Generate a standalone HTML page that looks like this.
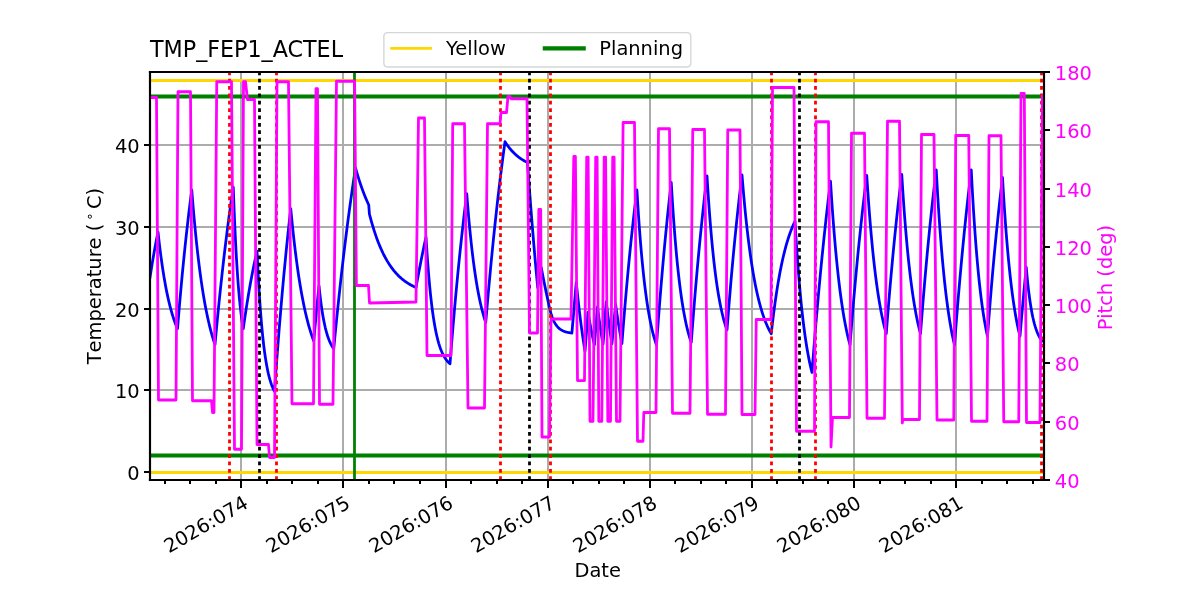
<!DOCTYPE html>
<html lang="en">
<head>
<meta charset="utf-8">
<title>TMP_FEP1_ACTEL</title>
<style>
html,body{margin:0;padding:0;background:#fff;}
body{width:1200px;height:600px;overflow:hidden;font-family:"DejaVu Sans","Liberation Sans",sans-serif;}
svg{display:block;}
</style>
</head>
<body>
<svg width="1200" height="600" viewBox="0 0 864 432">
 <defs>
  <style type="text/css">*{stroke-linejoin: round; stroke-linecap: butt}</style>
 </defs>
 <g id="figure_1">
  <g id="patch_1">
   <path d="M 0 432 L 864 432 L 864 0 L 0 0 z
" style="fill: #ffffff"/>
  </g>
  <g id="axes_1">
   <g id="patch_2">
    <path d="M 108 345.6 L 751.68 345.6 L 751.68 51.84 L 108 51.84 z
" style="fill: #ffffff"/>
   </g>
   <g id="matplotlib.axis_1">
    <g id="xtick_1">
     <g id="line2d_1">
      <path d="M 173.52 345.6 L 173.52 51.84 
" clip-path="url(#pbbffde8c5c)" style="fill: none; stroke: #acacac; stroke-width: 1.44; stroke-linecap: square"/>
     </g>
     <g id="line2d_2">
      <defs>
       <path id="m81359d36cf" d="M 0 0 L 0 5.76 
" style="stroke: #000000; stroke-width: 1.44"/>
      </defs>
      <g>
       <use href="#m81359d36cf" x="173.52" y="345.6" style="stroke: #000000; stroke-width: 1.44"/>
      </g>
     </g>
     <g id="text_1">
      <text style="font-size: 14px; font-family: 'DejaVu Sans', 'Liberation Sans', sans-serif; text-anchor: end" x="179.7029" y="364.9366" transform="rotate(-30 179.7029 364.9366)">2026:074</text>
     </g>
    </g>
    <g id="xtick_2">
     <g id="line2d_3">
      <path d="M 246.96 345.6 L 246.96 51.84 
" clip-path="url(#pbbffde8c5c)" style="fill: none; stroke: #acacac; stroke-width: 1.44; stroke-linecap: square"/>
     </g>
     <g id="line2d_4">
      <g>
       <use href="#m81359d36cf" x="246.96" y="345.6" style="stroke: #000000; stroke-width: 1.44"/>
      </g>
     </g>
     <g id="text_2">
      <text style="font-size: 14px; font-family: 'DejaVu Sans', 'Liberation Sans', sans-serif; text-anchor: end" x="253.1429" y="364.9366" transform="rotate(-30 253.1429 364.9366)">2026:075</text>
     </g>
    </g>
    <g id="xtick_3">
     <g id="line2d_5">
      <path d="M 321.12 345.6 L 321.12 51.84 
" clip-path="url(#pbbffde8c5c)" style="fill: none; stroke: #acacac; stroke-width: 1.44; stroke-linecap: square"/>
     </g>
     <g id="line2d_6">
      <g>
       <use href="#m81359d36cf" x="321.12" y="345.6" style="stroke: #000000; stroke-width: 1.44"/>
      </g>
     </g>
     <g id="text_3">
      <text style="font-size: 14px; font-family: 'DejaVu Sans', 'Liberation Sans', sans-serif; text-anchor: end" x="327.3029" y="364.9366" transform="rotate(-30 327.3029 364.9366)">2026:076</text>
     </g>
    </g>
    <g id="xtick_4">
     <g id="line2d_7">
      <path d="M 394.56 345.6 L 394.56 51.84 
" clip-path="url(#pbbffde8c5c)" style="fill: none; stroke: #acacac; stroke-width: 1.44; stroke-linecap: square"/>
     </g>
     <g id="line2d_8">
      <g>
       <use href="#m81359d36cf" x="394.56" y="345.6" style="stroke: #000000; stroke-width: 1.44"/>
      </g>
     </g>
     <g id="text_4">
      <text style="font-size: 14px; font-family: 'DejaVu Sans', 'Liberation Sans', sans-serif; text-anchor: end" x="400.7429" y="364.9366" transform="rotate(-30 400.7429 364.9366)">2026:077</text>
     </g>
    </g>
    <g id="xtick_5">
     <g id="line2d_9">
      <path d="M 468 345.6 L 468 51.84 
" clip-path="url(#pbbffde8c5c)" style="fill: none; stroke: #acacac; stroke-width: 1.44; stroke-linecap: square"/>
     </g>
     <g id="line2d_10">
      <g>
       <use href="#m81359d36cf" x="468" y="345.6" style="stroke: #000000; stroke-width: 1.44"/>
      </g>
     </g>
     <g id="text_5">
      <text style="font-size: 14px; font-family: 'DejaVu Sans', 'Liberation Sans', sans-serif; text-anchor: end" x="474.1829" y="364.9366" transform="rotate(-30 474.1829 364.9366)">2026:078</text>
     </g>
    </g>
    <g id="xtick_6">
     <g id="line2d_11">
      <path d="M 541.44 345.6 L 541.44 51.84 
" clip-path="url(#pbbffde8c5c)" style="fill: none; stroke: #acacac; stroke-width: 1.44; stroke-linecap: square"/>
     </g>
     <g id="line2d_12">
      <g>
       <use href="#m81359d36cf" x="541.44" y="345.6" style="stroke: #000000; stroke-width: 1.44"/>
      </g>
     </g>
     <g id="text_6">
      <text style="font-size: 14px; font-family: 'DejaVu Sans', 'Liberation Sans', sans-serif; text-anchor: end" x="547.6229" y="364.9366" transform="rotate(-30 547.6229 364.9366)">2026:079</text>
     </g>
    </g>
    <g id="xtick_7">
     <g id="line2d_13">
      <path d="M 614.88 345.6 L 614.88 51.84 
" clip-path="url(#pbbffde8c5c)" style="fill: none; stroke: #acacac; stroke-width: 1.44; stroke-linecap: square"/>
     </g>
     <g id="line2d_14">
      <g>
       <use href="#m81359d36cf" x="614.88" y="345.6" style="stroke: #000000; stroke-width: 1.44"/>
      </g>
     </g>
     <g id="text_7">
      <text style="font-size: 14px; font-family: 'DejaVu Sans', 'Liberation Sans', sans-serif; text-anchor: end" x="621.0629" y="364.9366" transform="rotate(-30 621.0629 364.9366)">2026:080</text>
     </g>
    </g>
    <g id="xtick_8">
     <g id="line2d_15">
      <path d="M 688.32 345.6 L 688.32 51.84 
" clip-path="url(#pbbffde8c5c)" style="fill: none; stroke: #acacac; stroke-width: 1.44; stroke-linecap: square"/>
     </g>
     <g id="line2d_16">
      <g>
       <use href="#m81359d36cf" x="688.32" y="345.6" style="stroke: #000000; stroke-width: 1.44"/>
      </g>
     </g>
     <g id="text_8">
      <text style="font-size: 14px; font-family: 'DejaVu Sans', 'Liberation Sans', sans-serif; text-anchor: end" x="694.5029" y="364.9366" transform="rotate(-30 694.5029 364.9366)">2026:081</text>
     </g>
    </g>
    <g id="xtick_9">
     <g id="line2d_17">
      <defs>
       <path id="m21ebfc0434" d="M 0 0 L 0 2.88 
" style="stroke: #000000; stroke-width: 1.44"/>
      </defs>
      <g>
       <use href="#m21ebfc0434" x="118.8" y="345.6" style="stroke: #000000; stroke-width: 1.44"/>
      </g>
     </g>
    </g>
    <g id="xtick_10">
     <g id="line2d_18">
      <g>
       <use href="#m21ebfc0434" x="136.8" y="345.6" style="stroke: #000000; stroke-width: 1.44"/>
      </g>
     </g>
    </g>
    <g id="xtick_11">
     <g id="line2d_19">
      <g>
       <use href="#m21ebfc0434" x="155.52" y="345.6" style="stroke: #000000; stroke-width: 1.44"/>
      </g>
     </g>
    </g>
    <g id="xtick_12">
     <g id="line2d_20">
      <g>
       <use href="#m21ebfc0434" x="192.24" y="345.6" style="stroke: #000000; stroke-width: 1.44"/>
      </g>
     </g>
    </g>
    <g id="xtick_13">
     <g id="line2d_21">
      <g>
       <use href="#m21ebfc0434" x="210.24" y="345.6" style="stroke: #000000; stroke-width: 1.44"/>
      </g>
     </g>
    </g>
    <g id="xtick_14">
     <g id="line2d_22">
      <g>
       <use href="#m21ebfc0434" x="228.96" y="345.6" style="stroke: #000000; stroke-width: 1.44"/>
      </g>
     </g>
    </g>
    <g id="xtick_15">
     <g id="line2d_23">
      <g>
       <use href="#m21ebfc0434" x="265.68" y="345.6" style="stroke: #000000; stroke-width: 1.44"/>
      </g>
     </g>
    </g>
    <g id="xtick_16">
     <g id="line2d_24">
      <g>
       <use href="#m21ebfc0434" x="283.68" y="345.6" style="stroke: #000000; stroke-width: 1.44"/>
      </g>
     </g>
    </g>
    <g id="xtick_17">
     <g id="line2d_25">
      <g>
       <use href="#m21ebfc0434" x="302.4" y="345.6" style="stroke: #000000; stroke-width: 1.44"/>
      </g>
     </g>
    </g>
    <g id="xtick_18">
     <g id="line2d_26">
      <g>
       <use href="#m21ebfc0434" x="339.12" y="345.6" style="stroke: #000000; stroke-width: 1.44"/>
      </g>
     </g>
    </g>
    <g id="xtick_19">
     <g id="line2d_27">
      <g>
       <use href="#m21ebfc0434" x="357.84" y="345.6" style="stroke: #000000; stroke-width: 1.44"/>
      </g>
     </g>
    </g>
    <g id="xtick_20">
     <g id="line2d_28">
      <g>
       <use href="#m21ebfc0434" x="375.84" y="345.6" style="stroke: #000000; stroke-width: 1.44"/>
      </g>
     </g>
    </g>
    <g id="xtick_21">
     <g id="line2d_29">
      <g>
       <use href="#m21ebfc0434" x="412.56" y="345.6" style="stroke: #000000; stroke-width: 1.44"/>
      </g>
     </g>
    </g>
    <g id="xtick_22">
     <g id="line2d_30">
      <g>
       <use href="#m21ebfc0434" x="431.28" y="345.6" style="stroke: #000000; stroke-width: 1.44"/>
      </g>
     </g>
    </g>
    <g id="xtick_23">
     <g id="line2d_31">
      <g>
       <use href="#m21ebfc0434" x="449.28" y="345.6" style="stroke: #000000; stroke-width: 1.44"/>
      </g>
     </g>
    </g>
    <g id="xtick_24">
     <g id="line2d_32">
      <g>
       <use href="#m21ebfc0434" x="486" y="345.6" style="stroke: #000000; stroke-width: 1.44"/>
      </g>
     </g>
    </g>
    <g id="xtick_25">
     <g id="line2d_33">
      <g>
       <use href="#m21ebfc0434" x="504.72" y="345.6" style="stroke: #000000; stroke-width: 1.44"/>
      </g>
     </g>
    </g>
    <g id="xtick_26">
     <g id="line2d_34">
      <g>
       <use href="#m21ebfc0434" x="522.72" y="345.6" style="stroke: #000000; stroke-width: 1.44"/>
      </g>
     </g>
    </g>
    <g id="xtick_27">
     <g id="line2d_35">
      <g>
       <use href="#m21ebfc0434" x="559.44" y="345.6" style="stroke: #000000; stroke-width: 1.44"/>
      </g>
     </g>
    </g>
    <g id="xtick_28">
     <g id="line2d_36">
      <g>
       <use href="#m21ebfc0434" x="578.16" y="345.6" style="stroke: #000000; stroke-width: 1.44"/>
      </g>
     </g>
    </g>
    <g id="xtick_29">
     <g id="line2d_37">
      <g>
       <use href="#m21ebfc0434" x="596.16" y="345.6" style="stroke: #000000; stroke-width: 1.44"/>
      </g>
     </g>
    </g>
    <g id="xtick_30">
     <g id="line2d_38">
      <g>
       <use href="#m21ebfc0434" x="633.6" y="345.6" style="stroke: #000000; stroke-width: 1.44"/>
      </g>
     </g>
    </g>
    <g id="xtick_31">
     <g id="line2d_39">
      <g>
       <use href="#m21ebfc0434" x="651.6" y="345.6" style="stroke: #000000; stroke-width: 1.44"/>
      </g>
     </g>
    </g>
    <g id="xtick_32">
     <g id="line2d_40">
      <g>
       <use href="#m21ebfc0434" x="670.32" y="345.6" style="stroke: #000000; stroke-width: 1.44"/>
      </g>
     </g>
    </g>
    <g id="xtick_33">
     <g id="line2d_41">
      <g>
       <use href="#m21ebfc0434" x="707.04" y="345.6" style="stroke: #000000; stroke-width: 1.44"/>
      </g>
     </g>
    </g>
    <g id="xtick_34">
     <g id="line2d_42">
      <g>
       <use href="#m21ebfc0434" x="725.04" y="345.6" style="stroke: #000000; stroke-width: 1.44"/>
      </g>
     </g>
    </g>
    <g id="xtick_35">
     <g id="line2d_43">
      <g>
       <use href="#m21ebfc0434" x="743.76" y="345.6" style="stroke: #000000; stroke-width: 1.44"/>
      </g>
     </g>
    </g>
    <g id="text_9">
     <text style="font-size: 14px; font-family: 'DejaVu Sans', 'Liberation Sans', sans-serif; text-anchor: middle" x="430.3440" y="415.4863" transform="rotate(-0 430.3440 415.4863)">Date</text>
    </g>
   </g>
   <g id="matplotlib.axis_2">
    <g id="ytick_1">
     <g id="line2d_44">
      <path d="M 108 339.84 L 751.68 339.84 
" clip-path="url(#pbbffde8c5c)" style="fill: none; stroke: #acacac; stroke-width: 1.44; stroke-linecap: square"/>
     </g>
     <g id="line2d_45">
      <defs>
       <path id="m43eea198a5" d="M 0 0 L -4.32 0 
" style="stroke: #000000; stroke-width: 1.44"/>
      </defs>
      <g>
       <use href="#m43eea198a5" x="108" y="339.84" style="stroke: #000000; stroke-width: 1.44"/>
      </g>
     </g>
     <g id="text_10">
      <text style="font-size: 14px; font-family: 'DejaVu Sans', 'Liberation Sans', sans-serif; text-anchor: end" x="100.5400" y="345.7349" transform="rotate(-0 100.5400 345.7349)">0</text>
     </g>
    </g>
    <g id="ytick_2">
     <g id="line2d_46">
      <path d="M 108 280.8 L 751.68 280.8 
" clip-path="url(#pbbffde8c5c)" style="fill: none; stroke: #acacac; stroke-width: 1.44; stroke-linecap: square"/>
     </g>
     <g id="line2d_47">
      <g>
       <use href="#m43eea198a5" x="108" y="280.8" style="stroke: #000000; stroke-width: 1.44"/>
      </g>
     </g>
     <g id="text_11">
      <text style="font-size: 14px; font-family: 'DejaVu Sans', 'Liberation Sans', sans-serif; text-anchor: end" x="100.5400" y="286.6949" transform="rotate(-0 100.5400 286.6949)">10</text>
     </g>
    </g>
    <g id="ytick_3">
     <g id="line2d_48">
      <path d="M 108 222.48 L 751.68 222.48 
" clip-path="url(#pbbffde8c5c)" style="fill: none; stroke: #acacac; stroke-width: 1.44; stroke-linecap: square"/>
     </g>
     <g id="line2d_49">
      <g>
       <use href="#m43eea198a5" x="108" y="222.48" style="stroke: #000000; stroke-width: 1.44"/>
      </g>
     </g>
     <g id="text_12">
      <text style="font-size: 14px; font-family: 'DejaVu Sans', 'Liberation Sans', sans-serif; text-anchor: end" x="100.5400" y="228.3749" transform="rotate(-0 100.5400 228.3749)">20</text>
     </g>
    </g>
    <g id="ytick_4">
     <g id="line2d_50">
      <path d="M 108 163.44 L 751.68 163.44 
" clip-path="url(#pbbffde8c5c)" style="fill: none; stroke: #acacac; stroke-width: 1.44; stroke-linecap: square"/>
     </g>
     <g id="line2d_51">
      <g>
       <use href="#m43eea198a5" x="108" y="163.44" style="stroke: #000000; stroke-width: 1.44"/>
      </g>
     </g>
     <g id="text_13">
      <text style="font-size: 14px; font-family: 'DejaVu Sans', 'Liberation Sans', sans-serif; text-anchor: end" x="100.5400" y="169.3349" transform="rotate(-0 100.5400 169.3349)">30</text>
     </g>
    </g>
    <g id="ytick_5">
     <g id="line2d_52">
      <path d="M 108 104.4 L 751.68 104.4 
" clip-path="url(#pbbffde8c5c)" style="fill: none; stroke: #acacac; stroke-width: 1.44; stroke-linecap: square"/>
     </g>
     <g id="line2d_53">
      <g>
       <use href="#m43eea198a5" x="108" y="104.4" style="stroke: #000000; stroke-width: 1.44"/>
      </g>
     </g>
     <g id="text_14">
      <text style="font-size: 14px; font-family: 'DejaVu Sans', 'Liberation Sans', sans-serif; text-anchor: end" x="100.5400" y="110.2949" transform="rotate(-0 100.5400 110.2949)">40</text>
     </g>
    </g>
    <g id="text_15"><g transform="translate(73.325 262.28) rotate(-90)"><text x="0" y="-0.375" style="font-size: 14px; font-family: 'DejaVu Sans', 'Liberation Sans', sans-serif; font-kerning: none">Temperature (<tspan x="103.3245" dy="-5.359375" style="font-size: 9.8px">∘</tspan><tspan x="111.751172" dy="5.359375">C)</tspan></text></g></g>
   </g>
   <g id="line2d_54">
    <path d="M 108 199.8 L 108.576 196.064381 L 109.152 192.439167 L 109.728 188.921093 L 110.304 185.506995 L 110.88 182.193798 L 111.456 178.978521 L 112.032 175.85827 L 112.608 172.830237 L 113.184 169.891695 L 113.76 167.04 L 114.3 171.886974 L 114.84 176.47986 L 115.38 180.831977 L 115.92 184.955946 L 116.46 188.863728 L 117 192.566657 L 117.54 196.075469 L 118.08 199.400343 L 118.62 202.550919 L 119.16 205.536335 L 119.7 208.36525 L 120.24 211.045867 L 120.78 213.58596 L 121.32 215.992896 L 121.86 218.273656 L 122.4 220.434853 L 122.94 222.482756 L 123.48 224.423303 L 124.02 226.262123 L 124.56 228.004548 L 125.1 229.655631 L 125.64 231.220161 L 126.18 232.702675 L 126.72 234.107472 L 127.26 235.438627 L 127.8 236.7 L 128.34 230.105694 L 128.88 223.682658 L 129.42 217.426445 L 129.96 211.332722 L 130.5 205.397268 L 131.04 199.615974 L 131.58 193.984834 L 132.12 188.499949 L 132.66 183.157521 L 133.2 177.953849 L 133.74 172.885329 L 134.28 167.948452 L 134.82 163.139799 L 135.36 158.456038 L 135.9 153.893927 L 136.44 149.450305 L 136.98 145.122095 L 137.52 140.9063 L 138.06 136.8 L 138.6 143.563594 L 139.14 150.007709 L 139.68 156.147435 L 140.22 161.997151 L 140.76 167.570555 L 141.3 172.880699 L 141.84 177.940018 L 142.38 182.760359 L 142.92 187.353011 L 143.46 191.728729 L 144 195.897759 L 144.54 199.869864 L 145.08 203.654347 L 145.62 207.26007 L 146.16 210.695475 L 146.7 213.968609 L 147.24 217.087137 L 147.78 220.05836 L 148.32 222.889237 L 148.86 225.586398 L 149.4 228.156157 L 149.94 230.604534 L 150.48 232.937262 L 151.02 235.159803 L 151.56 237.277362 L 152.1 239.294898 L 152.64 241.217136 L 153.18 243.048576 L 153.72 244.793509 L 154.26 246.456019 L 154.8 248.04 L 155.3475 242.097833 L 155.895 236.27818 L 156.4425 230.578516 L 156.99 224.996366 L 157.5375 219.529308 L 158.085 214.174969 L 158.6325 208.931025 L 159.18 203.7952 L 159.7275 198.765264 L 160.275 193.839034 L 160.8225 189.014372 L 161.37 184.289185 L 161.9175 179.66142 L 162.465 175.12907 L 163.0125 170.690167 L 163.56 166.342785 L 164.1075 162.085036 L 164.655 157.915072 L 165.2025 153.831085 L 165.75 149.8313 L 166.2975 145.913982 L 166.845 142.07743 L 167.3925 138.31998 L 167.94 134.64 L 168.493846 149.448847 L 169.047692 162.542765 L 169.601538 174.120351 L 170.155385 184.357201 L 170.709231 193.40858 L 171.263077 201.41177 L 171.816923 208.488155 L 172.370769 214.745064 L 172.924615 220.277396 L 173.478462 225.16906 L 174.032308 229.494248 L 174.586154 233.31856 L 175.14 236.7 L 175.69 232.802361 L 176.24 229.0115 L 176.79 225.324492 L 177.34 221.738491 L 177.89 218.250731 L 178.44 214.858519 L 178.99 211.559239 L 179.54 208.350345 L 180.09 205.229359 L 180.64 202.193875 L 181.19 199.24155 L 181.74 196.370105 L 182.29 193.577325 L 182.84 190.861054 L 183.39 188.219197 L 183.94 185.649715 L 184.49 183.150626 L 185.04 180.72 L 185.587826 192.050678 L 186.135652 202.214334 L 186.683478 211.331168 L 187.231304 219.508998 L 187.77913 226.84454 L 188.326957 233.424546 L 188.874783 239.326833 L 189.422609 244.621205 L 189.970435 249.370274 L 190.518261 253.630206 L 191.066087 257.451378 L 191.613913 260.878983 L 192.161739 263.953556 L 192.709565 266.711459 L 193.257391 269.185306 L 193.805217 271.404356 L 194.353043 273.394851 L 194.90087 275.180332 L 195.448696 276.781915 L 195.996522 278.21854 L 196.544348 279.507197 L 197.092174 280.663127 L 197.64 281.7 L 198.197143 273.842665 L 198.754286 266.1702 L 199.311429 258.678255 L 199.868571 251.362583 L 200.425714 244.219036 L 200.982857 237.243565 L 201.54 230.432215 L 202.097143 223.781125 L 202.654286 217.286524 L 203.211429 210.944729 L 203.768571 204.752147 L 204.325714 198.705265 L 204.882857 192.800656 L 205.44 187.034973 L 205.997143 181.404946 L 206.554286 175.907385 L 207.111429 170.539172 L 207.668571 165.297264 L 208.225714 160.178689 L 208.782857 155.180546 L 209.34 150.3 L 209.892 156.062533 L 210.444 161.562327 L 210.996 166.81136 L 211.548 171.821066 L 212.1 176.602357 L 212.652 181.165647 L 213.204 185.520876 L 213.756 189.677531 L 214.308 193.644664 L 214.86 197.430919 L 215.412 201.044541 L 215.964 204.493401 L 216.516 207.785012 L 217.068 210.926544 L 217.62 213.92484 L 218.172 216.786429 L 218.724 219.517546 L 219.276 222.124138 L 219.828 224.611885 L 220.38 226.986204 L 220.932 229.252266 L 221.484 231.415009 L 222.036 233.479143 L 222.588 235.449163 L 223.14 237.329361 L 223.692 239.123833 L 224.244 240.836486 L 224.796 242.471052 L 225.348 244.031091 L 225.9 245.52 L 226.44 239.366622 L 226.98 233.386567 L 227.52 227.574954 L 228.06 221.927036 L 228.6 216.438204 L 229.14 211.103977 L 229.68 205.92 L 230.238947 211.140568 L 230.797895 215.839537 L 231.356842 220.069021 L 231.915789 223.875926 L 232.474737 227.302475 L 233.033684 230.38667 L 233.592632 233.162715 L 234.151579 235.661398 L 234.710526 237.910433 L 235.269474 239.934761 L 235.828421 241.756833 L 236.387368 243.396858 L 236.946316 244.873025 L 237.505263 246.201704 L 238.064211 247.397631 L 238.623158 248.474071 L 239.182105 249.442961 L 239.741053 250.315046 L 240.3 251.1 L 240.84 245.446292 L 241.38 239.889226 L 241.92 234.427151 L 242.46 229.058442 L 243 223.781503 L 243.54 218.594767 L 244.08 213.49669 L 244.62 208.485758 L 245.16 203.560481 L 245.7 198.719394 L 246.24 193.961059 L 246.78 189.284061 L 247.32 184.68701 L 247.86 180.168539 L 248.4 175.727305 L 248.94 171.361987 L 249.48 167.071289 L 250.02 162.853934 L 250.56 158.708668 L 251.1 154.634261 L 251.64 150.629499 L 252.18 146.693193 L 252.72 142.824173 L 253.26 139.021289 L 253.8 135.283409 L 254.34 131.609423 L 254.88 127.998239 L 255.42 124.448783 L 255.96 120.96 L 256.521176 122.922336 L 257.082353 124.827797 L 257.643529 126.678031 L 258.204706 128.474638 L 258.765882 130.219174 L 259.327059 131.913148 L 259.888235 133.558024 L 260.449412 135.155225 L 261.010588 136.706135 L 261.571765 138.212094 L 262.132941 139.674405 L 262.694118 141.094333 L 263.255294 142.473106 L 263.816471 143.811918 L 264.377647 145.111927 L 264.938824 146.374257 L 265.5 147.6 L 265.734 150.84 L 265.968 154.08 L 266.509161 156.154772 L 267.050323 158.157215 L 267.591484 160.089849 L 268.132645 161.955108 L 268.673806 163.75534 L 269.214968 165.492814 L 269.756129 167.169716 L 270.29729 168.788159 L 270.838452 170.35018 L 271.379613 171.857747 L 271.920774 173.312757 L 272.461935 174.717042 L 273.003097 176.072373 L 273.544258 177.380453 L 274.085419 178.642933 L 274.626581 179.861399 L 275.167742 181.037389 L 275.708903 182.172381 L 276.250065 183.267805 L 276.791226 184.325041 L 277.332387 185.34542 L 277.873548 186.330227 L 278.41471 187.280701 L 278.955871 188.198041 L 279.497032 189.083401 L 280.038194 189.937895 L 280.579355 190.7626 L 281.120516 191.558555 L 281.661677 192.326761 L 282.202839 193.068187 L 282.744 193.783765 L 283.285161 194.474397 L 283.826323 195.140952 L 284.367484 195.78427 L 284.908645 196.40516 L 285.449806 197.004406 L 285.990968 197.582761 L 286.532129 198.140953 L 287.07329 198.679686 L 287.614452 199.199637 L 288.155613 199.701463 L 288.696774 200.185793 L 289.237935 200.653239 L 289.779097 201.10439 L 290.320258 201.539812 L 290.861419 201.960055 L 291.402581 202.365647 L 291.943742 202.7571 L 292.484903 203.134906 L 293.026065 203.499541 L 293.567226 203.851464 L 294.108387 204.191119 L 294.649548 204.518933 L 295.19071 204.835318 L 295.731871 205.140674 L 296.273032 205.435385 L 296.814194 205.719821 L 297.355355 205.994342 L 297.896516 206.259292 L 298.437677 206.515006 L 298.978839 206.761805 L 299.52 207 L 300.073846 203.937684 L 300.627692 200.922121 L 301.181538 197.952595 L 301.735385 195.028406 L 302.289231 192.148859 L 302.843077 189.313274 L 303.396923 186.520979 L 303.950769 183.771314 L 304.504615 181.063628 L 305.058462 178.39728 L 305.612308 175.771639 L 306.166154 173.186083 L 306.72 170.64 L 307.26 179.234731 L 307.8 187.060322 L 308.34 194.185605 L 308.88 200.673248 L 309.42 206.580314 L 309.96 211.958759 L 310.5 216.855889 L 311.04 221.314777 L 311.58 225.37464 L 312.12 229.071188 L 312.66 232.436933 L 313.2 235.501479 L 313.74 238.291779 L 314.28 240.832377 L 314.82 243.145617 L 315.36 245.251847 L 315.9 247.16959 L 316.44 248.915716 L 316.98 250.505581 L 317.52 251.95317 L 318.06 253.271215 L 318.6 254.471308 L 319.14 255.564005 L 319.68 256.558918 L 320.22 257.464796 L 320.76 258.289607 L 321.3 259.040606 L 321.84 259.724399 L 322.38 260.346999 L 322.92 260.913883 L 323.46 261.430037 L 324 261.9 L 324.548182 254.909761 L 325.096364 248.076599 L 325.644545 241.396985 L 326.192727 234.867469 L 326.740909 228.484676 L 327.289091 222.245311 L 327.837273 216.146151 L 328.385455 210.184045 L 328.933636 204.355912 L 329.481818 198.658744 L 330.03 193.089596 L 330.578182 187.645593 L 331.126364 182.323921 L 331.674545 177.121832 L 332.222727 172.03664 L 332.770909 167.065716 L 333.319091 162.206494 L 333.867273 157.456463 L 334.415455 152.81317 L 334.963636 148.274216 L 335.511818 143.837257 L 336.06 139.5 L 336.6072 146.448948 L 337.1544 152.99322 L 337.7016 159.156383 L 338.2488 164.960632 L 338.796 170.426868 L 339.3432 175.574775 L 339.8904 180.422891 L 340.4376 184.988675 L 340.9848 189.288568 L 341.532 193.338055 L 342.0792 197.151718 L 342.6264 200.743291 L 343.1736 204.125707 L 343.7208 207.311146 L 344.268 210.31108 L 344.8152 213.136311 L 345.3624 215.797014 L 345.9096 218.302769 L 346.4568 220.662601 L 347.004 222.885006 L 347.5512 224.977989 L 348.0984 226.949086 L 348.6456 228.805395 L 349.1928 230.553601 L 349.74 232.2 L 350.2944 225.65071 L 350.8488 219.231105 L 351.4032 212.938617 L 351.9576 206.770728 L 352.512 200.724972 L 353.0664 194.79893 L 353.6208 188.990231 L 354.1752 183.296552 L 354.7296 177.715616 L 355.284 172.245189 L 355.8384 166.883085 L 356.3928 161.627157 L 356.9472 156.475303 L 357.5016 151.425463 L 358.056 146.475616 L 358.6104 141.623783 L 359.1648 136.868023 L 359.7192 132.206433 L 360.2736 127.637148 L 360.828 123.158342 L 361.3824 118.768222 L 361.9368 114.465032 L 362.4912 110.247051 L 363.0456 106.112592 L 363.6 102.06 L 364.14 102.898296 L 364.68 103.703721 L 365.22 104.477565 L 365.76 105.221067 L 366.3 105.935415 L 366.84 106.621754 L 367.38 107.28118 L 367.92 107.91475 L 368.46 108.523478 L 369 109.108337 L 369.54 109.670263 L 370.08 110.210156 L 370.62 110.728879 L 371.16 111.227263 L 371.7 111.706105 L 372.24 112.166172 L 372.78 112.608198 L 373.32 113.032893 L 373.86 113.440935 L 374.4 113.832978 L 374.94 114.209649 L 375.48 114.57155 L 376.02 114.91926 L 376.56 115.253337 L 377.1 115.574314 L 377.64 115.882706 L 378.18 116.179006 L 378.72 116.463687 L 379.26 116.737206 L 379.8 117 L 380.364923 124.921629 L 380.929846 132.662544 L 381.494769 140.226868 L 382.059692 147.61863 L 382.624615 154.841765 L 383.189538 161.900122 L 383.754462 168.797458 L 384.319385 175.537448 L 384.884308 182.12368 L 385.449231 188.559663 L 386.014154 194.848824 L 386.579077 200.994512 L 387.144 207 L 387.783 203.4 L 388.422 199.8 L 389.061 196.2 L 389.7 192.6 L 390.255 195.521481 L 390.81 198.394674 L 391.365 201.220377 L 391.92 203.999375 L 392.475 206.732441 L 393.03 209.420333 L 393.585 212.063798 L 394.14 214.663571 L 394.695 217.220373 L 395.25 219.734915 L 395.805 222.207895 L 396.36 224.64 L 396.910286 226.471967 L 397.460571 228.088673 L 398.010857 229.515411 L 398.561143 230.774502 L 399.111429 231.885647 L 399.661714 232.866228 L 400.212 233.731588 L 400.762286 234.495266 L 401.312571 235.169209 L 401.862857 235.763962 L 402.413143 236.288829 L 402.963429 236.752023 L 403.513714 237.160791 L 404.064 237.521526 L 404.614286 237.839875 L 405.164571 238.120816 L 405.714857 238.368746 L 406.265143 238.587543 L 406.815429 238.780631 L 407.365714 238.95103 L 407.916 239.101408 L 408.466286 239.234115 L 409.016571 239.351229 L 409.566857 239.454581 L 410.117143 239.545789 L 410.667429 239.62628 L 411.217714 239.697314 L 411.768 239.76 L 412.3944 232.488 L 413.0208 225.216 L 413.6472 217.944 L 414.2736 210.672 L 414.9 203.4 L 415.472727 208.990346 L 416.045455 214.332274 L 416.618182 219.436823 L 417.190909 224.314541 L 417.763636 228.975508 L 418.336364 233.429356 L 418.909091 237.685288 L 419.481818 241.7521 L 420.054545 245.638195 L 420.627273 249.351604 L 421.2 252.9 L 421.74 245.925 L 422.28 238.95 L 422.82 231.975 L 423.36 225 L 423.936 228.32296 L 424.512 231.523616 L 425.088 234.60647 L 425.664 237.575858 L 426.24 240.435956 L 426.816 243.190787 L 427.392 245.844224 L 427.968 248.4 L 428.526 241.56 L 429.084 234.72 L 429.642 227.88 L 430.2 221.04 L 430.765714 225.398628 L 431.331429 229.574403 L 431.897143 233.574998 L 432.462857 237.40776 L 433.028571 241.079732 L 433.594286 244.597657 L 434.16 247.968 L 434.745 240.336 L 435.33 232.704 L 435.915 225.072 L 436.5 217.44 L 437.081143 222.30558 L 437.662286 226.967041 L 438.243429 231.432945 L 438.824571 235.711497 L 439.405714 239.810556 L 439.986857 243.737652 L 440.568 247.5 L 441.234 240.435 L 441.9 233.37 L 442.566 226.305 L 443.232 219.24 L 443.799 223.253113 L 444.366 227.118521 L 444.933 230.84166 L 445.5 234.427767 L 446.067 237.881886 L 446.634 241.208873 L 447.201 244.413409 L 447.768 247.5 L 448.308 240.553607 L 448.848 233.778721 L 449.388 227.171107 L 449.928 220.726636 L 450.468 214.44128 L 451.008 208.311109 L 451.548 202.332293 L 452.088 196.501095 L 452.628 190.813869 L 453.168 185.267061 L 453.708 179.857205 L 454.248 174.580918 L 454.788 169.434904 L 455.328 164.415945 L 455.868 159.520904 L 456.408 154.746723 L 456.948 150.090416 L 457.488 145.549074 L 458.028 141.119858 L 458.568 136.8 L 459.110769 145.743053 L 459.653538 154.087917 L 460.196308 161.874605 L 460.739077 169.140451 L 461.281846 175.920294 L 461.824615 182.246643 L 462.367385 188.14983 L 462.910154 193.658161 L 463.452923 198.798047 L 463.995692 203.594133 L 464.538462 208.069415 L 465.081231 212.245351 L 465.624 216.141964 L 466.166769 219.777939 L 466.709538 223.170707 L 467.252308 226.336538 L 467.795077 229.290611 L 468.337846 232.047089 L 468.880615 234.61919 L 469.423385 237.019247 L 469.966154 239.258768 L 470.508923 241.348489 L 471.051692 243.298432 L 471.594462 245.117946 L 472.137231 246.815755 L 472.68 248.4 L 473.238947 240.676938 L 473.797895 233.154464 L 474.356842 225.827368 L 474.915789 218.690575 L 475.474737 211.739143 L 476.033684 204.968257 L 476.592632 198.373229 L 477.151579 191.94949 L 477.710526 185.692592 L 478.269474 179.598201 L 478.828421 173.662098 L 479.387368 167.88017 L 479.946316 162.248413 L 480.505263 156.762928 L 481.064211 151.419914 L 481.623158 146.215672 L 482.182105 141.146598 L 482.741053 136.20918 L 483.3 131.4 L 483.853846 140.631539 L 484.407692 149.245592 L 484.961538 157.283463 L 485.515385 164.783691 L 486.069231 171.782239 L 486.623077 178.312663 L 487.176923 184.406276 L 487.730769 190.092295 L 488.284615 195.397984 L 488.838462 200.348782 L 489.392308 204.968428 L 489.946154 209.279072 L 490.5 213.301383 L 491.053846 217.054646 L 491.607692 220.556859 L 492.161538 223.824813 L 492.715385 226.874179 L 493.269231 229.719576 L 493.823077 232.374648 L 494.376923 234.852126 L 494.930769 237.163889 L 495.484615 239.321021 L 496.038462 241.333866 L 496.592308 243.212074 L 497.146154 244.964651 L 497.7 246.6 L 498.24 239.431527 L 498.78 232.431717 L 499.32 225.5966 L 499.86 218.922302 L 500.4 212.405039 L 500.94 206.041116 L 501.48 199.826925 L 502.02 193.758944 L 502.56 187.833733 L 503.1 182.047931 L 503.64 176.39826 L 504.18 170.881516 L 504.72 165.494571 L 505.26 160.234372 L 505.8 155.097937 L 506.34 150.082354 L 506.88 145.184779 L 507.42 140.402435 L 507.96 135.732612 L 508.5 131.172662 L 509.04 126.72 L 509.593846 135.605356 L 510.147692 143.896383 L 510.701538 151.632833 L 511.255385 158.851803 L 511.809231 165.587905 L 512.363077 171.873438 L 512.916923 177.738541 L 513.470769 183.211334 L 514.024615 188.31806 L 514.578462 193.083203 L 515.132308 197.529612 L 515.686154 201.678607 L 516.24 205.550081 L 516.793846 209.162597 L 517.347692 212.533477 L 517.901538 215.678883 L 518.455385 218.613897 L 519.009231 221.352592 L 519.563077 223.908099 L 520.116923 226.292672 L 520.670769 228.517743 L 521.224615 230.593983 L 521.778462 232.531346 L 522.332308 234.339121 L 522.886154 236.025976 L 523.44 237.6 L 523.98 230.597132 L 524.52 223.767166 L 525.06 217.105832 L 525.6 210.608966 L 526.14 204.27251 L 526.68 198.0925 L 527.22 192.065076 L 527.76 186.186469 L 528.3 180.453006 L 528.84 174.861103 L 529.38 169.407263 L 529.92 164.08808 L 530.46 158.900228 L 531 153.840464 L 531.54 148.905627 L 532.08 144.092631 L 532.62 139.398468 L 533.16 134.820205 L 533.7 130.354979 L 534.24 126 L 534.78 132.608086 L 535.32 138.885839 L 535.86 144.849771 L 536.4 150.51557 L 536.94 155.89814 L 537.48 161.011639 L 538.02 165.869517 L 538.56 170.484554 L 539.1 174.868888 L 539.64 179.034052 L 540.18 182.991002 L 540.72 186.750147 L 541.26 190.321375 L 541.8 193.714079 L 542.34 196.937185 L 542.88 199.99917 L 543.42 202.908088 L 543.96 205.671592 L 544.5 208.29695 L 545.04 210.791067 L 545.58 213.160506 L 546.12 215.411498 L 546.66 217.549965 L 547.2 219.581531 L 547.74 221.51154 L 548.28 223.34507 L 548.82 225.086942 L 549.36 226.74174 L 549.9 228.313815 L 550.44 229.807304 L 550.98 231.226134 L 551.52 232.574037 L 552.06 233.85456 L 552.6 235.071071 L 553.14 236.226769 L 553.68 237.324694 L 554.22 238.367735 L 554.76 239.358635 L 555.3 240.3 L 555.851613 235.375053 L 556.403226 230.682736 L 556.954839 226.212062 L 557.506452 221.95256 L 558.058065 217.894256 L 558.609677 214.027646 L 559.16129 210.343676 L 559.712903 206.833719 L 560.264516 203.489555 L 560.816129 200.303353 L 561.367742 197.267651 L 561.919355 194.375342 L 562.470968 191.61965 L 563.022581 188.994124 L 563.574194 186.492615 L 564.125806 184.109265 L 564.677419 181.838493 L 565.229032 179.674981 L 565.780645 177.613662 L 566.332258 175.64971 L 566.883871 173.778526 L 567.435484 171.995727 L 567.987097 170.297139 L 568.53871 168.678784 L 569.090323 167.136872 L 569.641935 165.667792 L 570.193548 164.268105 L 570.745161 162.934532 L 571.296774 161.66395 L 571.848387 160.453384 L 572.4 159.3 L 572.956364 168.539039 L 573.512727 177.16914 L 574.069091 185.230435 L 574.625455 192.760416 L 575.181818 199.7941 L 575.738182 206.364199 L 576.294545 212.501266 L 576.850909 218.233843 L 577.407273 223.58859 L 577.963636 228.590409 L 578.52 233.26256 L 579.076364 237.626774 L 579.632727 241.703344 L 580.189091 245.511231 L 580.745455 249.068142 L 581.301818 252.390619 L 581.858182 255.494114 L 582.414545 258.393059 L 582.970909 261.100937 L 583.527273 263.63034 L 584.083636 265.993032 L 584.64 268.2 L 585.195 260.984511 L 585.75 253.91779 L 586.305 246.996769 L 586.86 240.218445 L 587.415 233.579874 L 587.97 227.078177 L 588.525 220.710531 L 589.08 214.474171 L 589.635 208.366392 L 590.19 202.384541 L 590.745 196.526024 L 591.3 190.788296 L 591.855 185.168867 L 592.41 179.665299 L 592.965 174.275203 L 593.52 168.996239 L 594.075 163.826115 L 594.63 158.762588 L 595.185 153.80346 L 595.74 148.946578 L 596.295 144.189835 L 596.85 139.531165 L 597.405 134.968547 L 597.96 130.5 L 598.5 139.007774 L 599.04 147.038606 L 599.58 154.619231 L 600.12 161.77489 L 600.66 168.529405 L 601.2 174.905264 L 601.74 180.923694 L 602.28 186.604733 L 602.82 191.967296 L 603.36 197.029235 L 603.9 201.807403 L 604.44 206.317709 L 604.98 210.575169 L 605.52 214.593957 L 606.06 218.387453 L 606.6 221.968287 L 607.14 225.348381 L 607.68 228.538987 L 608.22 231.55073 L 608.76 234.393635 L 609.3 237.077168 L 609.84 239.610263 L 610.38 242.001354 L 610.92 244.258401 L 611.46 246.388918 L 612 248.4 L 612.548182 241.43032 L 613.096364 234.617256 L 613.644545 227.957288 L 614.192727 221.446976 L 614.740909 215.082957 L 615.289091 208.861943 L 615.837273 202.780721 L 616.385455 196.83615 L 616.933636 191.02516 L 617.481818 185.344748 L 618.03 179.79198 L 618.578182 174.363988 L 619.126364 169.057968 L 619.674545 163.87118 L 620.222727 158.800944 L 620.770909 153.84464 L 621.319091 148.99971 L 621.867273 144.26365 L 622.415455 139.634013 L 622.963636 135.108409 L 623.511818 130.6845 L 624.06 126.36 L 624.6 134.582017 L 625.14 142.34311 L 625.68 149.66912 L 626.22 156.584436 L 626.76 163.112081 L 627.3 169.273789 L 627.84 175.090074 L 628.38 180.5803 L 628.92 185.762745 L 629.46 190.654665 L 630 195.272345 L 630.54 199.63116 L 631.08 203.745621 L 631.62 207.629427 L 632.16 211.295508 L 632.7 214.75607 L 633.24 218.022633 L 633.78 221.106075 L 634.32 224.01666 L 634.86 226.764078 L 635.4 229.357477 L 635.94 231.805491 L 636.48 234.11627 L 637.02 236.297508 L 637.56 238.356466 L 638.1 240.3 L 638.658 233.105118 L 639.216 226.087878 L 639.774 219.243895 L 640.332 212.56889 L 640.89 206.058691 L 641.448 199.70923 L 642.006 193.516538 L 642.564 187.476744 L 643.122 181.586072 L 643.68 175.840842 L 644.238 170.237463 L 644.796 164.772431 L 645.354 159.442331 L 645.912 154.243832 L 646.47 149.173684 L 647.028 144.228719 L 647.586 139.405845 L 648.144 134.702049 L 648.702 130.11439 L 649.26 125.64 L 649.8 134.235106 L 650.34 142.329672 L 650.88 149.952847 L 651.42 157.132083 L 651.96 163.893233 L 652.5 170.260644 L 653.04 176.257246 L 653.58 181.904633 L 654.12 187.223142 L 654.66 192.231925 L 655.2 196.949019 L 655.74 201.391411 L 656.28 205.575098 L 656.82 209.515146 L 657.36 213.225744 L 657.9 216.720253 L 658.44 220.011258 L 658.98 223.11061 L 659.52 226.029469 L 660.06 228.778348 L 660.6 231.367144 L 661.14 233.80518 L 661.68 236.101236 L 662.22 238.263581 L 662.76 240.3 L 663.3 233.249926 L 663.84 226.365727 L 664.38 219.643503 L 664.92 213.079441 L 665.46 206.66982 L 666 200.411007 L 666.54 194.299454 L 667.08 188.331694 L 667.62 182.504347 L 668.16 176.814106 L 668.7 171.257748 L 669.24 165.832121 L 669.78 160.53415 L 670.32 155.360832 L 670.86 150.309233 L 671.4 145.376489 L 671.94 140.559805 L 672.48 135.856449 L 673.02 131.263755 L 673.56 126.77912 L 674.1 122.4 L 674.6475 132.226555 L 675.195 141.457749 L 675.7425 150.129653 L 676.29 158.276153 L 676.8375 165.929082 L 677.385 173.118343 L 677.9325 179.872029 L 678.48 186.216529 L 679.0275 192.176636 L 679.575 197.775638 L 680.1225 203.035414 L 680.67 207.976516 L 681.2175 212.618252 L 681.765 216.978759 L 682.3125 221.075077 L 682.86 224.923211 L 683.4075 228.538198 L 683.955 231.934165 L 684.5025 235.12438 L 685.05 238.12131 L 685.5975 240.936665 L 686.145 243.581446 L 686.6925 246.065989 L 687.24 248.4 L 687.788182 241.204166 L 688.336364 234.170029 L 688.884545 227.293955 L 689.432727 220.572394 L 689.980909 214.001873 L 690.529091 207.578997 L 691.077273 201.30045 L 691.625455 195.162987 L 692.173636 189.163439 L 692.721818 183.298707 L 693.27 177.565761 L 693.818182 171.96164 L 694.366364 166.483448 L 694.914545 161.128357 L 695.462727 155.8936 L 696.010909 150.776472 L 696.559091 145.774332 L 697.107273 140.884594 L 697.655455 136.104734 L 698.203636 131.432281 L 698.751818 126.864823 L 699.3 122.4 L 699.857143 133.021838 L 700.414286 142.911435 L 700.971429 152.119271 L 701.528571 160.692345 L 702.085714 168.674415 L 702.642857 176.106223 L 703.2 183.025703 L 703.757143 189.468173 L 704.314286 195.466517 L 704.871429 201.051352 L 705.428571 206.251184 L 705.985714 211.092554 L 706.542857 215.600174 L 707.1 219.79705 L 707.657143 223.704606 L 708.214286 227.342786 L 708.771429 230.730159 L 709.328571 233.884017 L 709.885714 236.820456 L 710.442857 239.554466 L 711 242.1 L 711.54 234.927708 L 712.08 227.9325 L 712.62 221.110005 L 713.16 214.455958 L 713.7 207.966199 L 714.24 201.636674 L 714.78 195.463425 L 715.32 189.442594 L 715.86 183.570418 L 716.4 177.843226 L 716.94 172.257439 L 717.48 166.809566 L 718.02 161.496201 L 718.56 156.314024 L 719.1 151.259795 L 719.64 146.330356 L 720.18 141.522625 L 720.72 136.833597 L 721.26 132.260341 L 721.8 127.8 L 722.347826 137.089163 L 722.895652 145.791843 L 723.443478 153.945069 L 723.991304 161.583531 L 724.53913 168.739729 L 725.086957 175.444112 L 725.634783 181.725206 L 726.182609 187.609735 L 726.730435 193.122737 L 727.278261 198.287669 L 727.826087 203.126506 L 728.373913 207.659838 L 728.921739 211.906952 L 729.469565 215.88592 L 730.017391 219.61367 L 730.565217 223.106064 L 731.113043 226.377962 L 731.66087 229.443285 L 732.208696 232.315074 L 732.756522 235.00555 L 733.304348 237.526159 L 733.852174 239.887627 L 734.4 242.1 L 734.9625 235.357768 L 735.525 228.782002 L 736.0875 222.368592 L 736.65 216.11353 L 737.2125 210.012906 L 737.775 204.062907 L 738.3375 198.259814 L 738.9 192.6 L 739.44 198.519365 L 739.98 203.849984 L 740.52 208.650413 L 741.06 212.973387 L 741.6 216.866393 L 742.14 220.372196 L 742.68 223.529309 L 743.22 226.372411 L 743.76 228.932735 L 744.3 231.238407 L 744.84 233.314754 L 745.38 235.184586 L 745.92 236.868442 L 746.46 238.384819 L 747 239.750377 L 747.54 240.980114 L 748.08 242.08754 L 748.62 243.084821 L 749.16 243.982911 L 749.7 244.791676 L 750.24 245.52 
" clip-path="url(#pbbffde8c5c)" style="fill: none; stroke: #0000ff; stroke-width: 2; stroke-linecap: square"/>
   </g>
   <g id="line2d_55">
    <path d="M 108 57.96 L 751.68 57.96 
" clip-path="url(#pbbffde8c5c)" style="fill: none; stroke: #ffd700; stroke-width: 2; stroke-linecap: square"/>
   </g>
   <g id="line2d_56">
    <path d="M 108 69.48 L 751.68 69.48 
" clip-path="url(#pbbffde8c5c)" style="fill: none; stroke: #008000; stroke-width: 3; stroke-linecap: square"/>
   </g>
   <g id="line2d_57">
    <path d="M 108 340.2 L 751.68 340.2 
" clip-path="url(#pbbffde8c5c)" style="fill: none; stroke: #ffd700; stroke-width: 2; stroke-linecap: square"/>
   </g>
   <g id="line2d_58">
    <path d="M 108 327.96 L 751.68 327.96 
" clip-path="url(#pbbffde8c5c)" style="fill: none; stroke: #008000; stroke-width: 3; stroke-linecap: square"/>
   </g>
   <g id="line2d_59">
    <path d="M 255.24 345.6 L 255.24 51.84 
" clip-path="url(#pbbffde8c5c)" style="fill: none; stroke: #008000; stroke-width: 2; stroke-linecap: square"/>
   </g>
   <g id="line2d_60">
    <path d="M 165.24 345.6 L 165.24 51.84 
" clip-path="url(#pbbffde8c5c)" style="fill: none; stroke-dasharray: 2.7,2.6; stroke-dashoffset: 0; stroke: #ff0000; stroke-width: 2"/>
   </g>
   <g id="line2d_61">
    <path d="M 199.08 345.6 L 199.08 51.84 
" clip-path="url(#pbbffde8c5c)" style="fill: none; stroke-dasharray: 2.7,2.6; stroke-dashoffset: 0; stroke: #ff0000; stroke-width: 2"/>
   </g>
   <g id="line2d_62">
    <path d="M 360.36 345.6 L 360.36 51.84 
" clip-path="url(#pbbffde8c5c)" style="fill: none; stroke-dasharray: 2.7,2.6; stroke-dashoffset: 0; stroke: #ff0000; stroke-width: 2"/>
   </g>
   <g id="line2d_63">
    <path d="M 396.36 345.6 L 396.36 51.84 
" clip-path="url(#pbbffde8c5c)" style="fill: none; stroke-dasharray: 2.7,2.6; stroke-dashoffset: 0; stroke: #ff0000; stroke-width: 2"/>
   </g>
   <g id="line2d_64">
    <path d="M 555.48 345.6 L 555.48 51.84 
" clip-path="url(#pbbffde8c5c)" style="fill: none; stroke-dasharray: 2.7,2.6; stroke-dashoffset: 0; stroke: #ff0000; stroke-width: 2"/>
   </g>
   <g id="line2d_65">
    <path d="M 587.16 345.6 L 587.16 51.84 
" clip-path="url(#pbbffde8c5c)" style="fill: none; stroke-dasharray: 2.7,2.6; stroke-dashoffset: 0; stroke: #ff0000; stroke-width: 2"/>
   </g>
   <g id="line2d_66">
    <path d="M 749.88 345.6 L 749.88 51.84 
" clip-path="url(#pbbffde8c5c)" style="fill: none; stroke-dasharray: 2.7,2.6; stroke-dashoffset: 0; stroke: #ff0000; stroke-width: 2"/>
   </g>
   <g id="line2d_67">
    <path d="M 186.84 345.6 L 186.84 51.84 
" clip-path="url(#pbbffde8c5c)" style="fill: none; stroke-dasharray: 2.7,2.6; stroke-dashoffset: 0; stroke: #000000; stroke-width: 2"/>
   </g>
   <g id="line2d_68">
    <path d="M 381.24 345.6 L 381.24 51.84 
" clip-path="url(#pbbffde8c5c)" style="fill: none; stroke-dasharray: 2.7,2.6; stroke-dashoffset: 0; stroke: #000000; stroke-width: 2"/>
   </g>
   <g id="line2d_69">
    <path d="M 575.64 345.6 L 575.64 51.84 
" clip-path="url(#pbbffde8c5c)" style="fill: none; stroke-dasharray: 2.7,2.6; stroke-dashoffset: 0; stroke: #000000; stroke-width: 2"/>
   </g>
   <g id="patch_3">
    <path d="M 108 345.6 L 108 51.84 
" style="fill: none; stroke: #000000; stroke-width: 1.5; stroke-linejoin: miter; stroke-linecap: square"/>
   </g>
   <g id="patch_4">
    <path d="M 751.68 345.6 L 751.68 51.84 
" style="fill: none; stroke: #000000; stroke-width: 1.5; stroke-linejoin: miter; stroke-linecap: square"/>
   </g>
   <g id="patch_5">
    <path d="M 108 345.6 L 751.68 345.6 
" style="fill: none; stroke: #000000; stroke-width: 1.5; stroke-linejoin: miter; stroke-linecap: square"/>
   </g>
   <g id="patch_6">
    <path d="M 108 51.84 L 751.68 51.84 
" style="fill: none; stroke: #000000; stroke-width: 1.5; stroke-linejoin: miter; stroke-linecap: square"/>
   </g>
   <g id="text_16">
    <text style="font-size: 16px; font-family: 'DejaVu Sans', 'Liberation Sans', sans-serif; text-anchor: start" x="108" y="41.34" transform="rotate(-0 108 41.34)">TMP_FEP1_ACTEL</text>
   </g>
   <g id="legend_1">
    <g id="patch_7">
     <path d="M 279.170576 48.21824 L 494.580264 48.21824 Q 497.380264 48.21824 497.380264 45.41824 L 497.380264 26.268865 Q 497.380264 23.468865 494.580264 23.468865 L 279.170576 23.468865 Q 276.370576 23.468865 276.370576 26.268865 L 276.370576 45.41824 Q 276.370576 48.21824 279.170576 48.21824 z
" style="fill: #ffffff; opacity: 0.8; stroke: #cccccc; stroke-linejoin: miter"/>
    </g>
    <g id="line2d_70">
     <path d="M 281.970576 34.806678 L 295.970576 34.806678 L 309.970576 34.806678 
" style="fill: none; stroke: #ffd700; stroke-width: 2; stroke-linecap: square"/>
    </g>
    <g id="text_17">
     <text style="font-size: 14px; font-family: 'DejaVu Sans', 'Liberation Sans', sans-serif; text-anchor: start" x="321.170576" y="39.706678" transform="rotate(-0 321.170576 39.706678)">Yellow</text>
    </g>
    <g id="line2d_71">
     <path d="M 392.275263 34.806678 L 406.275263 34.806678 L 420.275263 34.806678 
" style="fill: none; stroke: #008000; stroke-width: 3; stroke-linecap: square"/>
    </g>
    <g id="text_18">
     <text style="font-size: 14px; font-family: 'DejaVu Sans', 'Liberation Sans', sans-serif; text-anchor: start" x="431.475263" y="39.706678" transform="rotate(-0 431.475263 39.706678)">Planning</text>
    </g>
   </g>
  </g>
  <g id="axes_2">
   <g id="matplotlib.axis_3">
    <g id="ytick_6">
     <g id="line2d_72">
      <defs>
       <path id="mdff07a0f2f" d="M 0 0 L 4.32 0 
" style="stroke: #000000; stroke-width: 1.44"/>
      </defs>
      <g>
       <use href="#mdff07a0f2f" x="751.68" y="345.6" style="stroke: #000000; stroke-width: 1.44"/>
      </g>
     </g>
     <g id="text_19">
      <text style="font-size: 14px; font-family: 'DejaVu Sans', 'Liberation Sans', sans-serif; text-anchor: start; fill: #ff00ff" x="759.5000" y="351.6389" transform="rotate(-0 759.5000 351.6389)">40</text>
     </g>
    </g>
    <g id="ytick_7">
     <g id="line2d_73">
      <g>
       <use href="#mdff07a0f2f" x="751.68" y="303.84" style="stroke: #000000; stroke-width: 1.44"/>
      </g>
     </g>
     <g id="text_20">
      <text style="font-size: 14px; font-family: 'DejaVu Sans', 'Liberation Sans', sans-serif; text-anchor: start; fill: #ff00ff" x="759.5000" y="309.8789" transform="rotate(-0 759.5000 309.8789)">60</text>
     </g>
    </g>
    <g id="ytick_8">
     <g id="line2d_74">
      <g>
       <use href="#mdff07a0f2f" x="751.68" y="261.36" style="stroke: #000000; stroke-width: 1.44"/>
      </g>
     </g>
     <g id="text_21">
      <text style="font-size: 14px; font-family: 'DejaVu Sans', 'Liberation Sans', sans-serif; text-anchor: start; fill: #ff00ff" x="759.5000" y="267.3989" transform="rotate(-0 759.5000 267.3989)">80</text>
     </g>
    </g>
    <g id="ytick_9">
     <g id="line2d_75">
      <g>
       <use href="#mdff07a0f2f" x="751.68" y="219.6" style="stroke: #000000; stroke-width: 1.44"/>
      </g>
     </g>
     <g id="text_22">
      <text style="font-size: 14px; font-family: 'DejaVu Sans', 'Liberation Sans', sans-serif; text-anchor: start; fill: #ff00ff" x="759.5000" y="225.6389" transform="rotate(-0 759.5000 225.6389)">100</text>
     </g>
    </g>
    <g id="ytick_10">
     <g id="line2d_76">
      <g>
       <use href="#mdff07a0f2f" x="751.68" y="177.84" style="stroke: #000000; stroke-width: 1.44"/>
      </g>
     </g>
     <g id="text_23">
      <text style="font-size: 14px; font-family: 'DejaVu Sans', 'Liberation Sans', sans-serif; text-anchor: start; fill: #ff00ff" x="759.5000" y="183.8789" transform="rotate(-0 759.5000 183.8789)">120</text>
     </g>
    </g>
    <g id="ytick_11">
     <g id="line2d_77">
      <g>
       <use href="#mdff07a0f2f" x="751.68" y="136.08" style="stroke: #000000; stroke-width: 1.44"/>
      </g>
     </g>
     <g id="text_24">
      <text style="font-size: 14px; font-family: 'DejaVu Sans', 'Liberation Sans', sans-serif; text-anchor: start; fill: #ff00ff" x="759.5000" y="142.1189" transform="rotate(-0 759.5000 142.1189)">140</text>
     </g>
    </g>
    <g id="ytick_12">
     <g id="line2d_78">
      <g>
       <use href="#mdff07a0f2f" x="751.68" y="93.6" style="stroke: #000000; stroke-width: 1.44"/>
      </g>
     </g>
     <g id="text_25">
      <text style="font-size: 14px; font-family: 'DejaVu Sans', 'Liberation Sans', sans-serif; text-anchor: start; fill: #ff00ff" x="759.5000" y="99.6389" transform="rotate(-0 759.5000 99.6389)">160</text>
     </g>
    </g>
    <g id="ytick_13">
     <g id="line2d_79">
      <g>
       <use href="#mdff07a0f2f" x="751.68" y="51.84" style="stroke: #000000; stroke-width: 1.44"/>
      </g>
     </g>
     <g id="text_26">
      <text style="font-size: 14px; font-family: 'DejaVu Sans', 'Liberation Sans', sans-serif; text-anchor: start; fill: #ff00ff" x="759.5000" y="57.8789" transform="rotate(-0 759.5000 57.8789)">180</text>
     </g>
    </g>
    <g id="text_27">
     <text style="font-size: 14px; font-family: 'DejaVu Sans', 'Liberation Sans', sans-serif; text-anchor: middle; fill: #ff00ff" x="800.3563" y="199.8000" transform="rotate(-90 800.3563 199.8000)">Pitch (deg)</text>
    </g>
   </g>
   <g id="line2d_80">
    <path d="M 108 70.2 L 112.68 70.2 L 114.12 288 L 126.72 288 L 128.16 66.06 L 137.16 66.06 L 138.6 288.54 L 152.28 288.54 L 153 297 L 154.08 297 L 156.06 58.86 L 166.68 58.86 L 168.84 323.46 L 173.88 323.46 L 175.32 58.86 L 176.76 58.86 L 178.2 71.64 L 183.24 71.64 L 185.04 320.04 L 193.32 320.04 L 194.04 329.4 L 197.64 329.4 L 199.44 58.86 L 207.72 58.86 L 210.24 290.7 L 225.72 290.7 L 227.52 63.9 L 228.6 63.9 L 230.04 291.06 L 239.76 291.06 L 242.28 58.5 L 255.312 58.5 L 256.608 205.56 L 265.32 205.56 L 266.04 218.16 L 299.52 217.44 L 301.32 84.96 L 305.64 84.96 L 307.44 255.96 L 324.72 255.96 L 325.944 89.1 L 334.44 89.1 L 336.96 293.76 L 348.84 293.76 L 351 89.1 L 360 89.1 L 360.72 81 L 364.68 81 L 365.76 69.48 L 367.2 69.48 L 367.92 71.1 L 379.44 71.1 L 381.24 239.76 L 387 239.76 L 387.936 150.84 L 389.304 150.84 L 390.24 314.64 L 395.64 314.64 L 396.72 229.68 L 411.12 229.68 L 413.136 112.68 L 414.288 112.68 L 415.8 274.032 L 420.84 274.032 L 422.424 113.112 L 423.432 113.112 L 424.8 303.3 L 426.96 303.3 L 428.904 113.112 L 429.912 113.112 L 431.136 303.3 L 433.296 303.3 L 435.024 113.112 L 436.032 113.112 L 437.616 303.3 L 439.56 303.3 L 441.144 113.112 L 442.152 113.112 L 443.88 303.3 L 446.4 303.3 L 448.632 88.2 L 456.84 88.2 L 459 317.7 L 462.96 317.7 L 463.536 297 L 472.32 297 L 474.12 92.7 L 482.04 92.7 L 484.2 297.54 L 496.8 297.54 L 498.78 93.24 L 507.24 93.24 L 509.4 298.26 L 522.36 298.26 L 523.98 93.6 L 532.8 93.6 L 534.24 298.44 L 543.6 298.44 L 544.5 230.04 L 555.12 230.04 L 556.2 63 L 571.68 63 L 573.48 310.5 L 586.44 310.5 L 587.52 87.66 L 596.52 87.66 L 598.32 321.84 L 599.4 300.6 L 611.64 300.6 L 613.08 95.94 L 622.44 95.94 L 624.24 301.14 L 636.84 301.14 L 639 87.3 L 647.64 87.3 L 649.656 304.56 L 650.16 302.04 L 662.04 302.04 L 663.48 96.84 L 672.48 96.84 L 674.64 302.4 L 686.7 302.4 L 688.14 97.56 L 697.5 97.56 L 699.48 303.3 L 710.64 303.3 L 712.08 97.74 L 720.72 97.74 L 722.7 303.66 L 733.5 303.66 L 735.12 67.32 L 737.496 67.32 L 739.08 304.2 L 748.8 304.2 L 750.528 69.12 L 756 69.12 
" clip-path="url(#pbbffde8c5c)" style="fill: none; stroke: #ff00ff; stroke-width: 2; stroke-linecap: square"/>
   </g>
   <g id="patch_8">
    <path d="M 108 345.6 L 108 51.84 
" style="fill: none; stroke: #000000; stroke-width: 1.5; stroke-linejoin: miter; stroke-linecap: square"/>
   </g>
   <g id="patch_9">
    <path d="M 751.68 345.6 L 751.68 51.84 
" style="fill: none; stroke: #000000; stroke-width: 1.5; stroke-linejoin: miter; stroke-linecap: square"/>
   </g>
   <g id="patch_10">
    <path d="M 108 345.6 L 751.68 345.6 
" style="fill: none; stroke: #000000; stroke-width: 1.5; stroke-linejoin: miter; stroke-linecap: square"/>
   </g>
   <g id="patch_11">
    <path d="M 108 51.84 L 751.68 51.84 
" style="fill: none; stroke: #000000; stroke-width: 1.5; stroke-linejoin: miter; stroke-linecap: square"/>
   </g>
  </g>
 </g>
 <defs>
  <clipPath id="pbbffde8c5c">
   <rect x="108" y="51.84" width="643.68" height="293.76"/>
  </clipPath>
 </defs>
</svg>

</body>
</html>
